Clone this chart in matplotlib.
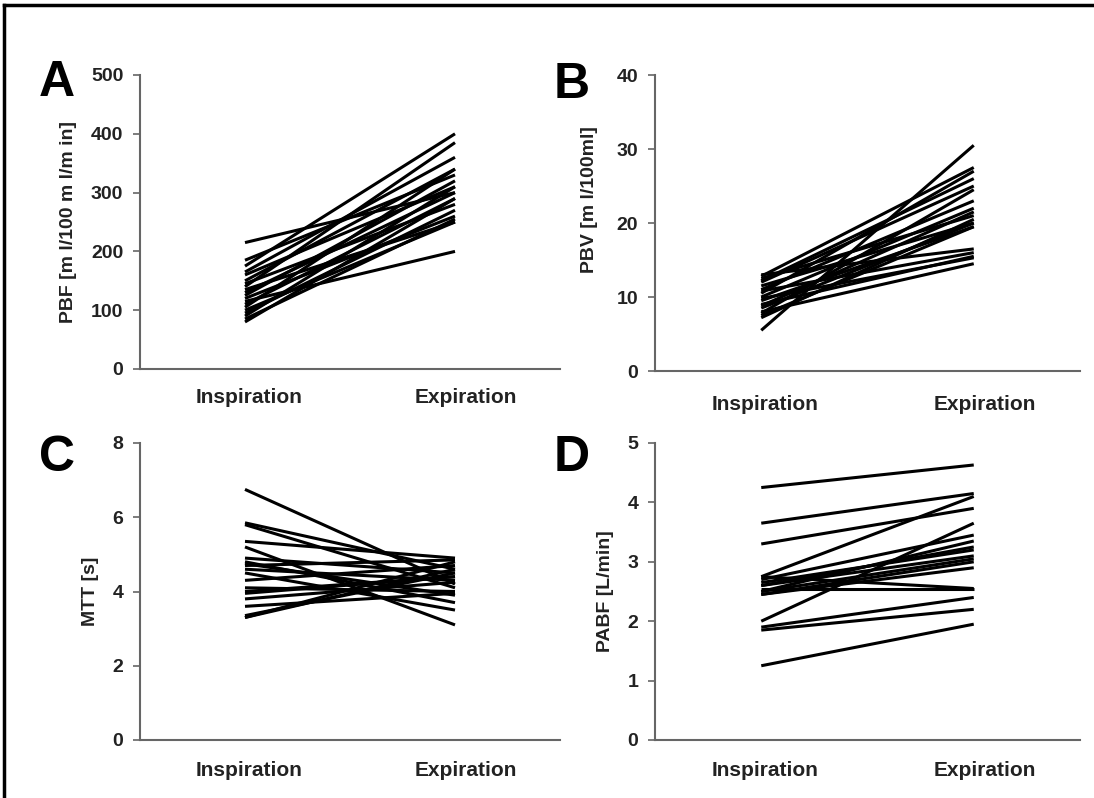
import matplotlib
matplotlib.use('Agg')
import matplotlib.pyplot as plt
from matplotlib.lines import Line2D

plt.rcParams['font.family'] = ['Liberation Sans', 'DejaVu Sans']
plt.rcParams['font.weight'] = 'bold'

phases = ['Inspiration', 'Expiration']

# Panel A: PBF
pbf_insp = [215, 185, 175, 165, 160, 150, 145, 140, 135, 130,
            125, 120, 115, 110, 105, 100, 95, 90, 85, 80]
pbf_exp = [300, 330, 400, 360, 310, 340, 280, 385, 250, 300,
           320, 260, 200, 290, 340, 250, 270, 310, 255, 290]

# Panel B: PBV
pbv_insp = [13.0, 12.8, 12.5, 12.0, 11.5, 11.0, 10.8, 10.5, 10.0, 9.5,
            9.0, 8.8, 8.5, 8.0, 7.8, 7.5, 7.2, 5.5, 12.2, 9.8]
pbv_exp = [16.5, 27.5, 21.0, 25.0, 20.0, 23.0, 16.0, 27.0, 22.0, 19.5,
           15.5, 21.5, 20.0, 14.5, 24.5, 19.5, 20.5, 30.5, 26.0, 15.3]

# Panel C: MTT
mtt_insp = [6.75, 5.85, 5.35, 5.2, 4.9, 4.8, 4.7, 4.6, 4.5, 4.3,
            4.1, 3.95, 3.8, 3.6, 3.35, 3.3, 4.0, 4.75, 5.8, 3.3]
mtt_exp = [4.2, 4.6, 4.9, 3.1, 4.5, 3.7, 4.85, 4.3, 3.5, 4.7,
           4.0, 4.4, 4.25, 3.95, 4.5, 4.6, 4.4, 3.9, 4.1, 4.8]

# Panel D: PABF
pabf_insp = [4.25, 3.65, 3.3, 2.75, 2.7, 2.65, 2.6, 2.55, 2.5, 2.45,
             2.45, 2.75, 2.0, 1.9, 1.85, 1.25, 2.6, 2.5]
pabf_exp = [4.63, 4.15, 3.9, 4.1, 3.45, 3.2, 3.1, 2.55, 3.35, 3.0,
            2.9, 2.55, 3.65, 2.4, 2.2, 1.95, 3.25, 3.05]

panels = [
    ('A', pbf_insp, pbf_exp, 'PBF [m l/100 m l/m in]', (0, 500), range(0, 501, 100)),
    ('B', pbv_insp, pbv_exp, 'PBV [m l/100ml]', (0, 40), range(0, 41, 10)),
    ('C', mtt_insp, mtt_exp, 'MTT [s]', (0, 8), range(0, 9, 2)),
    ('D', pabf_insp, pabf_exp, 'PABF [L/min]', (0, 5), range(0, 6, 1)),
]

W, H = 1094, 798
fig = plt.figure(figsize=(W / 100, H / 100), dpi=100)

# axes boxes in pixels: left, top, right, bottom
boxes = [(140, 75, 560, 369), (655, 75, 1080, 371),
         (140, 443, 560, 740), (655, 443, 1080, 740)]
letter_pos = [(39, 96), (554, 98), (39, 471), (554, 471)]
xlab_pad = [14, 17, 15, 15]

for i, ((lab, ins, exp, ylab, ylim, yt), (l, t, r, b), (lx, ly)) in enumerate(zip(panels, boxes, letter_pos)):
    ax = fig.add_axes([l / W, 1 - b / H, (r - l) / W, (b - t) / H])
    for a, e in zip(ins, exp):
        ax.plot([1, 2], [a, e], color='black', lw=2.2, solid_capstyle='butt')
    ax.set_xlim(0.5, 2.5)
    ax.set_ylim(ylim)
    ax.set_yticks(list(yt))
    ax.set_xticks([1.02, 2.05])
    ax.set_xticklabels(phases, fontsize=15, fontweight='bold', color='#222222')
    ax.tick_params(axis='x', length=0, pad=xlab_pad[i])
    ax.tick_params(axis='y', length=5, width=1.2, color='#666666', pad=7,
                   labelsize=14, labelcolor='#222222')
    for lbl in ax.get_yticklabels():
        lbl.set_fontweight('bold')
    ax.spines['top'].set_visible(False)
    ax.spines['right'].set_visible(False)
    ax.spines['left'].set_color('#666666')
    ax.spines['bottom'].set_color('#666666')
    ax.spines['left'].set_linewidth(1.5)
    ax.spines['bottom'].set_linewidth(1.5)
    ax.set_ylabel(ylab, fontsize=14, fontweight='bold', labelpad=10, color='#222222')
    if lab == 'B':
        # label sits above the middle in the original
        ax.yaxis.set_label_coords(-0.134, 0.58)
    fig.text(lx / W, 1 - ly / H, lab, fontsize=36, fontweight='bold', ha='left', va='baseline')

# frame lines at the top and left edges
fig.add_artist(Line2D([4 / W, 1], [1 - 5 / H, 1 - 5 / H], color='black', lw=2.5,
                      transform=fig.transFigure))
fig.add_artist(Line2D([4 / W, 4 / W], [0, 1 - 5 / H], color='black', lw=2.5,
                      transform=fig.transFigure))

fig.savefig('out.png', dpi=100)
